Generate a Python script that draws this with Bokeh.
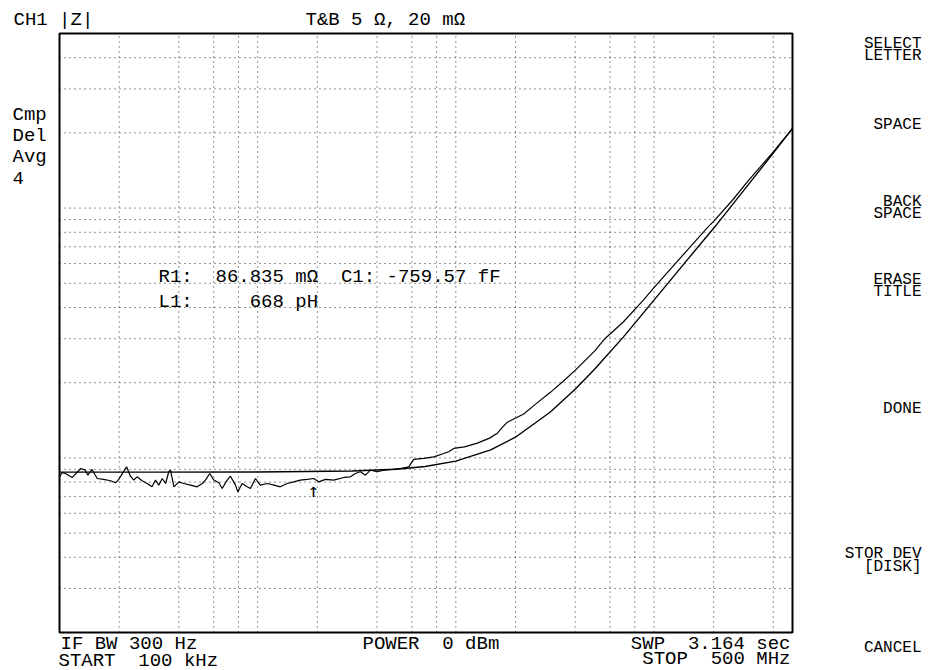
import math
from bokeh.plotting import figure
from bokeh.models import Label, Range1d
from bokeh.embed import file_html
from bokeh.resources import INLINE
from bokeh.core.properties import value

# ---- data (frequency in Hz, |Z| in ohm) ----
freq_meas = [1.00e5, 1.03e5, 1.07e5, 1.16e5, 1.28e5, 1.35e5, 1.39e5, 1.46e5, 1.55e5, 1.67e5,
             1.81e5, 1.92e5, 1.99e5, 2.18e5, 2.28e5, 2.37e5, 2.46e5, 2.61e5, 2.77e5, 2.93e5,
             3.05e5, 3.17e5, 3.30e5, 3.43e5, 3.56e5, 3.63e5, 3.78e5, 4.00e5, 4.24e5, 4.58e5,
             4.95e5, 5.25e5, 5.45e5, 5.73e5, 6.01e5, 6.37e5, 6.62e5, 7.02e5, 7.29e5, 7.73e5,
             7.94e5, 8.35e5, 8.85e5, 9.19e5, 9.75e5, 1.03e6, 1.12e6, 1.21e6, 1.30e6, 1.41e6,
             1.52e6, 1.64e6, 1.78e6, 1.92e6, 2.03e6, 2.20e6, 2.42e6, 2.72e6, 2.94e6, 3.11e6,
             3.30e6, 3.50e6, 3.71e6, 4.01e6, 4.33e6, 4.77e6, 5.25e6, 5.79e6, 6.13e6, 6.89e6,
             7.74e6, 8.69e6, 9.21e6, 9.76e6, 1.105e7, 1.285e7, 1.48e7, 1.62e7, 1.72e7, 1.82e7,
             2.2e7, 2.5e7, 3.0e7, 3.53e7, 4.0e7, 5.0e7, 5.65e7, 7.0e7, 8.84e7, 1.0e8,
             1.5e8, 1.86e8, 2.0e8, 2.5e8, 3.0e8, 4.0e8, 5.0e8]
z_meas = [0.0840, 0.0872, 0.0866, 0.0835, 0.0907, 0.0893, 0.0853, 0.0899, 0.0827, 0.0820,
          0.0810, 0.0795, 0.0820, 0.0921, 0.0845, 0.0815, 0.0840, 0.0810, 0.0790, 0.0766,
          0.0815, 0.0778, 0.0827, 0.0790, 0.0880, 0.0893, 0.0766, 0.0802, 0.0790, 0.0778,
          0.0766, 0.0790, 0.0815, 0.0866, 0.0815, 0.0795, 0.0754, 0.0815, 0.0845, 0.0778,
          0.0731, 0.0790, 0.0766, 0.0754, 0.0827, 0.0778, 0.0790, 0.0778, 0.0766, 0.0790,
          0.0802, 0.0815, 0.0820, 0.0827, 0.0802, 0.0820, 0.0815, 0.0835, 0.0840, 0.0866,
          0.0880, 0.0853, 0.0893, 0.0880, 0.0893, 0.0899, 0.0907, 0.0921, 0.0986, 0.0995,
          0.1010, 0.1041, 0.1058, 0.1091, 0.1107, 0.1146, 0.1200, 0.1256, 0.1327, 0.1390,
          0.150, 0.163, 0.183, 0.2046, 0.224, 0.267, 0.300, 0.350, 0.428, 0.480,
          0.690, 0.835, 0.885, 1.08, 1.29, 1.68, 2.085]

freq_sim = [1.0e5, 3.0e5, 1.0e6, 3.0e6, 5.0e6, 7.0e6, 1.0e7, 1.5e7, 2.0e7, 3.0e7,
            4.0e7, 5.0e7, 7.0e7, 1.0e8, 1.5e8, 2.0e8, 3.0e8, 4.0e8, 5.0e8]
z_sim = [0.0877, 0.0877, 0.0878, 0.0886, 0.0901, 0.0924, 0.0971, 0.1077, 0.121, 0.1527,
         0.1883, 0.226, 0.3045, 0.428, 0.632, 0.830, 1.245, 1.66, 2.085]

marker_freq = [1.91e6]
marker_z = [0.0827]

f_start, f_stop = 1e5, 5e8          # START 100 kHz, STOP 500 MHz
z_bottom, z_top = 0.02, 5.0         # T&B 5 ohm, 20 mohm

x_grid_ticks = [2e5, 4e5, 6e5, 8e5, 1e6, 2e6, 4e6, 6e6, 8e6, 1e7,
                2e7, 4e7, 6e7, 8e7, 1e8, 2e8, 4e8]
y_grid_ticks = [4, 3, 2, 1, 0.9, 0.8, 0.7, 0.6, 0.5, 0.4, 0.3, 0.2,
                0.1, 0.09, 0.08, 0.07, 0.06, 0.05, 0.04, 0.03]

NB = "\u00a0"
header_left = "CH1 |Z|"
header_scale = "T&B 5 Ω, 20 mΩ"
status_lines = ["Cmp", "Del", "Avg", "4"]
marker_line1 = "R1:  86.835 mΩ  C1: -759.57 fF"
marker_line2 = "L1:     668 pH"
footer_left = ["IF BW 300 Hz", "START  100 kHz"]
footer_mid = "POWER  0 dBm"
footer_right = ["SWP  3.164 sec", "STOP  500 MHz"]
softkeys = [["SELECT", "LETTER"], ["SPACE"], ["BACK", "SPACE"], ["ERASE", "TITLE"],
            ["DONE"], ["STOR DEV", "[DISK]"], ["CANCEL"]]

FONT = "Liberation Mono"

# ---- layout: the frame covers the whole canvas; the graticule box sits at page px 59..792 x 33..632
W, H = 928, 670
BOX_L, BOX_R, BOX_T, BOX_B = 59, 792, 33, 632
lx0, lx1 = math.log10(f_start), math.log10(f_stop)
ly0, ly1 = math.log10(z_bottom), math.log10(z_top)
ppx = (BOX_R - BOX_L) / (lx1 - lx0)
ppy = (BOX_B - BOX_T) / (ly1 - ly0)
x_range = Range1d(10 ** (lx0 - BOX_L / ppx), 10 ** (lx1 + (W - BOX_R) / ppx))
y_range = Range1d(10 ** (ly0 - (H - BOX_B) / ppy), 10 ** (ly1 + BOX_T / ppy))

p = figure(width=W, height=H, x_axis_type="log", y_axis_type="log",
           x_range=x_range, y_range=y_range,
           x_axis_location=None, y_axis_location=None,
           output_backend="svg", toolbar_location=None,
           min_border=0, min_border_left=0, min_border_right=0,
           min_border_top=0, min_border_bottom=0)
p.outline_line_color = None
p.background_fill_color = "white"
p.border_fill_color = "white"
p.xgrid.visible = False
p.ygrid.visible = False

# dotted graticule inside the box
p.segment(x0=x_grid_ticks, x1=x_grid_ticks,
          y0=[z_bottom] * len(x_grid_ticks), y1=[z_top] * len(x_grid_ticks),
          line_color="black", line_dash="1 4", line_width=1, line_alpha=0.85)
p.segment(x0=[f_start] * len(y_grid_ticks), x1=[f_stop] * len(y_grid_ticks),
          y0=y_grid_ticks, y1=y_grid_ticks,
          line_color="black", line_dash="1 4", line_width=1, line_alpha=0.85)
# box
p.quad(left=[f_start], right=[f_stop], bottom=[z_bottom], top=[z_top],
       fill_color=None, line_color="black", line_width=2)

p.line(freq_sim, z_sim, line_color="black", line_width=1.4)
p.line(freq_meas, z_meas, line_color="black", line_width=1.2)
p.text(x=marker_freq, y=marker_z, text=["↑"], text_align="center", text_baseline="top",
       text_font=value("DejaVu Sans Mono"), text_font_size="19px", text_color="black", y_offset=0)

def lab(text, px, py, align="left", size="19px"):
    p.add_layout(Label(x=px, y=H - py, x_units="screen", y_units="screen",
                       text=text.replace(" ", NB),
                       text_align=align, text_baseline="middle", text_font=FONT,
                       text_font_size=size, text_color="black"))

lab(header_left, 13, 19)
lab(header_scale, 305, 19)
for t, yy in zip(status_lines, [114, 135.5, 156.5, 177]):
    lab(t, 12, yy)
lab(marker_line1, 158, 276)
lab(marker_line2, 158, 301)
lab(footer_left[0], 60, 643.5)
lab(footer_left[1], 58, 660)
lab(footer_mid, 362, 643.5)
lab(footer_right[0], 790, 643.5, align="right")
lab(footer_right[1], 790, 658.5, align="right")

soft_y = [[43.5, 55.5], [124], [201, 213], [279, 291], [408], [553, 566], [647.5]]
for lines, ys in zip(softkeys, soft_y):
    for t, yy in zip(lines, ys):
        lab(t, 921, yy, align="right", size="16px")

open("out.html", "w").write(file_html(p, INLINE))
